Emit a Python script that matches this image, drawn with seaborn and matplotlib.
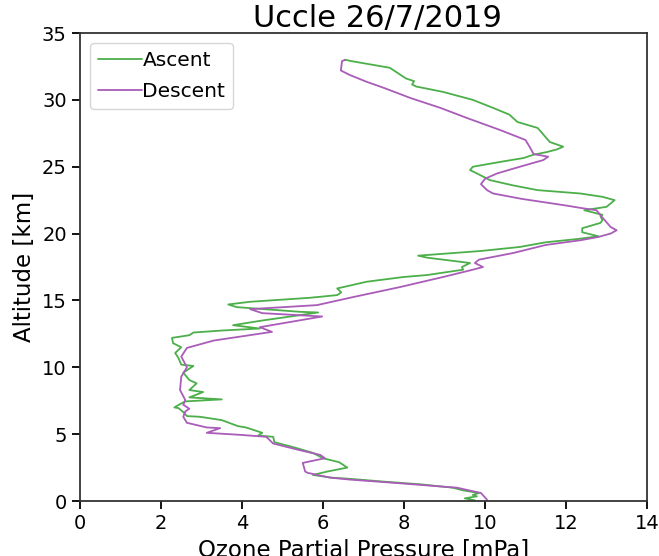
import matplotlib
matplotlib.use("Agg")
import matplotlib.pyplot as plt
import seaborn as sns
import pandas as pd

# Ozone sounding, Uccle 26/7/2019: partial pressure (mPa) versus altitude (km)
ascent_o3 = [9.75, 9.5, 9.8, 9.7, 9.85, 9.45, 9.2, 8.4, 7.5, 6.7, 6.2, 5.75, 6.1, 6.6,
             6.4, 6.0, 5.75, 5.3, 4.8, 4.77, 4.4, 4.5, 4.1, 3.9, 3.5, 2.96, 2.64, 2.55,
             2.43, 2.33, 2.47, 2.6, 3.5, 2.7, 3.04, 2.7, 2.88, 2.7, 2.55, 2.8, 2.5, 2.43,
             2.35, 2.5, 2.3, 2.27, 2.7, 2.8, 3.5, 4.44, 3.78, 4.5, 5.43, 5.88, 5.43, 3.87,
             3.66, 4.2, 5.68, 6.35, 6.45, 6.35, 6.5, 7.08, 7.98, 8.57, 9.46, 9.43, 9.63,
             8.57, 8.35, 9.9, 10.86, 11.5, 12.3, 12.8, 12.4, 12.4, 12.85, 12.9, 12.85,
             12.9, 12.45, 13.0, 13.2, 12.9, 12.35, 11.3, 10.7, 10.12, 9.8, 9.63, 9.7,
             10.45, 10.95, 11.2, 11.53, 11.78, 11.93, 11.6, 11.5, 11.3, 10.8, 10.6, 10.2,
             9.7, 8.96, 8.3, 8.2, 8.25, 8.05, 7.65, 6.7, 6.55]
ascent_alt = [0.05, 0.2, 0.35, 0.45, 0.6, 0.8, 1.0, 1.25, 1.45, 1.65, 1.75, 1.95, 2.2, 2.5,
              2.9, 3.2, 3.6, 4.0, 4.4, 4.8, 4.9, 5.1, 5.5, 5.6, 6.05, 6.3, 6.35, 6.65,
              6.95, 7.0, 7.25, 7.45, 7.6, 7.75, 8.15, 8.3, 8.8, 9.05, 9.6, 10.1, 10.2, 10.7,
              11.07, 11.5, 11.8, 12.2, 12.4, 12.6, 12.75, 12.9, 13.15, 13.5, 13.9, 14.1, 14.15, 14.5,
              14.7, 14.9, 15.2, 15.4, 15.6, 15.9, 16.0, 16.4, 16.75, 16.9, 17.3, 17.5, 17.8,
              18.2, 18.35, 18.7, 19.0, 19.35, 19.6, 19.8, 20.1, 20.4, 20.8, 21.0, 21.3,
              21.4, 21.75, 22.0, 22.5, 22.75, 23.0, 23.25, 23.6, 24.0, 24.5, 24.75, 25.0,
              25.4, 25.65, 25.9, 26.1, 26.3, 26.5, 26.85, 27.2, 27.9, 28.35, 28.9, 29.4,
              30.0, 30.6, 31.0, 31.15, 31.4, 31.6, 32.4, 32.9, 33.0]

descent_o3 = [10.05, 9.9, 9.3, 9.06, 7.8, 6.67, 6.17, 5.63, 5.56, 5.5, 6.05, 5.93, 5.43,
              4.77, 4.6, 3.95, 3.13, 3.46, 3.13, 2.64, 2.55, 2.6, 2.7, 2.55, 2.6, 2.47, 2.5,
              2.64, 2.5, 2.64, 3.3, 4.74, 4.44, 5.98, 4.5, 4.2, 5.85, 6.74, 7.9, 8.96, 9.7,
              9.95, 9.75, 9.85, 10.7, 11.5, 12.35, 12.8, 13.1, 13.25, 13.1, 12.9, 12.75,
              12.4, 12.0, 10.9, 10.2, 10.05, 9.9, 10.0, 10.3, 10.86, 11.44, 11.56, 11.2,
              11.1, 11.0, 10.37, 9.55, 8.9, 8.15, 7.5, 7.08, 6.67, 6.44, 6.47, 6.55]
descent_alt = [0.1, 0.6, 1.0, 1.05, 1.35, 1.6, 1.75, 2.1, 2.2, 2.85, 3.2, 3.45, 3.8,
               4.3, 4.8, 4.95, 5.1, 5.45, 5.5, 5.85, 6.3, 6.7, 6.9, 7.2, 7.55, 8.3, 9.3,
               10.0, 10.8, 11.45, 12.0, 12.65, 13.0, 13.8, 14.05, 14.35, 14.65, 15.25, 16.0, 16.75, 17.3,
               17.5, 17.8, 18.05, 18.55, 19.15, 19.5, 19.75, 20.0, 20.25, 20.5, 21.2, 21.75,
               21.9, 22.1, 22.6, 23.0, 23.25, 23.7, 24.1, 24.5, 25.0, 25.5, 25.75, 25.95,
               26.5, 27.0, 27.75, 28.65, 29.4, 30.15, 30.9, 31.35, 31.85, 32.2, 32.9, 33.0]

profiles = pd.concat([
    pd.DataFrame({"o3": ascent_o3, "alt": ascent_alt, "leg": "Ascent"}),
    pd.DataFrame({"o3": descent_o3, "alt": descent_alt, "leg": "Descent"}),
], ignore_index=True)

sns.set_theme(style="ticks")
plt.rcParams["font.family"] = ["DejaVu Sans"]
plt.rcParams["text.color"] = "black"
plt.rcParams["axes.labelcolor"] = "black"

fig = plt.figure(figsize=(6.59, 5.56), dpi=100)
ax = fig.add_axes([0.1214, 0.0989, 0.8604, 0.8417])

sns.lineplot(data=profiles, x="o3", y="alt", hue="leg", sort=False, estimator=None,
             palette={"Ascent": "#4caf4a", "Descent": "#a95cb8"}, linewidth=1.3, ax=ax)

ax.set_xlim(0, 14)
ax.set_ylim(0, 35)
ax.set_xticks([0, 2, 4, 6, 8, 10, 12, 14])
ax.set_yticks([0, 5, 10, 15, 20, 25, 30, 35])
ax.tick_params(labelsize=14, length=6, width=1.3, colors="black")
for s in ax.spines.values():
    s.set_linewidth(1.3)
    s.set_color("#333333")
ax.set_xlabel("Ozone Partial Pressure [mPa]", fontsize=16.5, color="black")
ax.set_ylabel("Altitude [km]", fontsize=16.5, color="black")
ax.set_title("Uccle 26/7/2019", fontsize=22, pad=4, color="black", x=0.525)
ax.legend(loc="upper left", fontsize=14.5, handlelength=2.2, handletextpad=0.0,
          borderpad=0.4, labelspacing=0.6, frameon=True, title=None)

fig.savefig("out.png", dpi=100)
